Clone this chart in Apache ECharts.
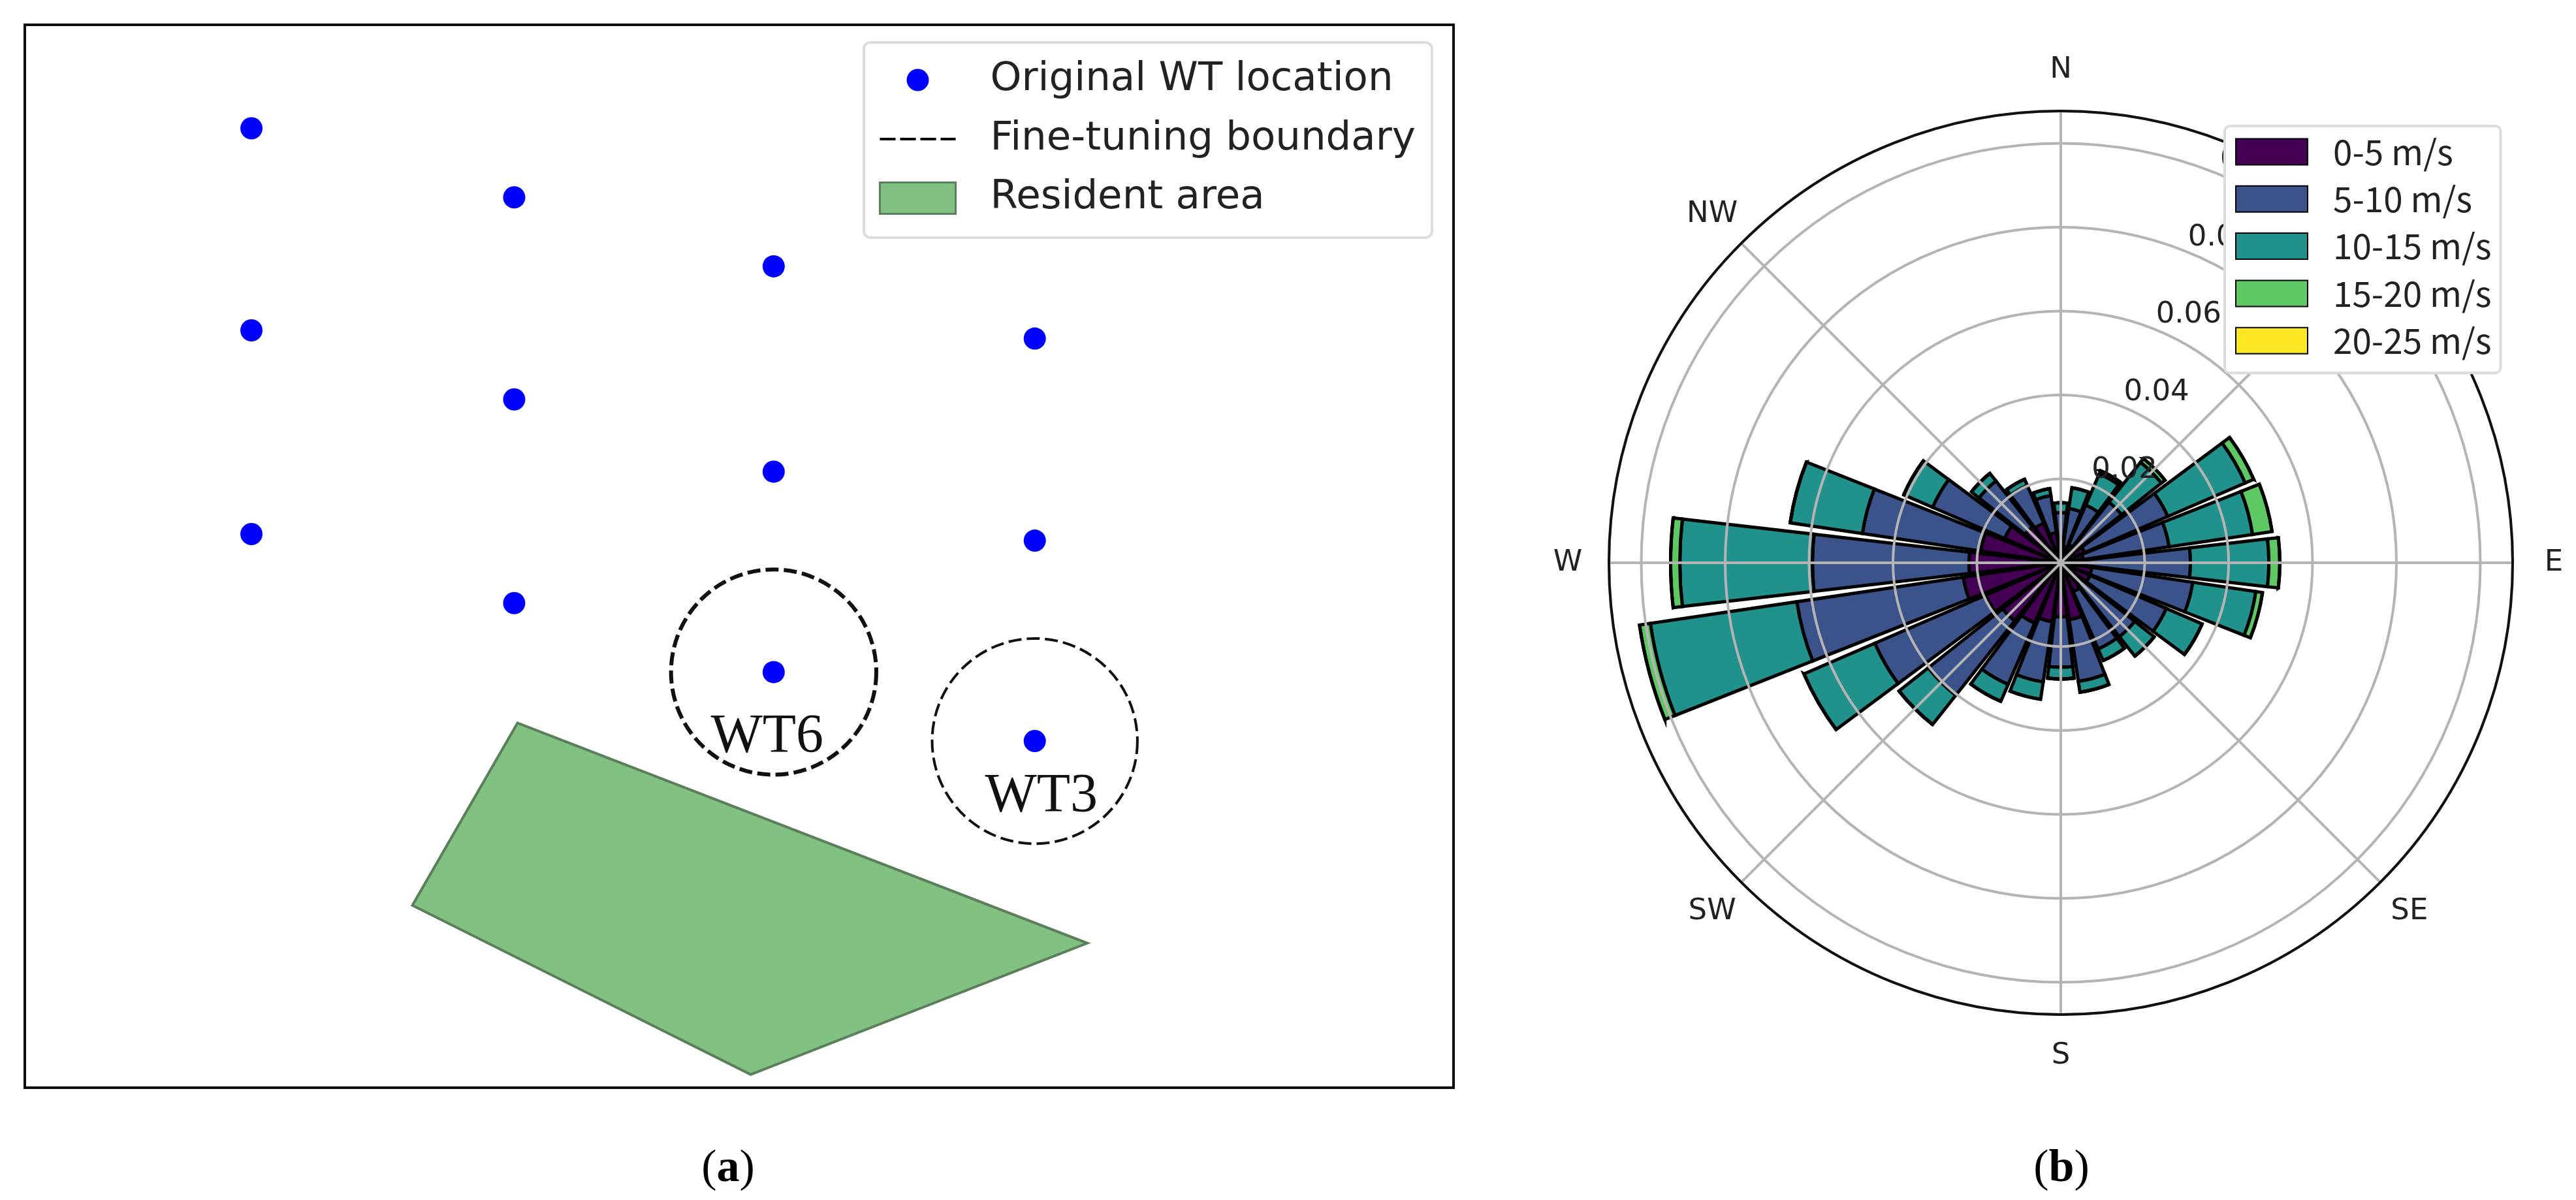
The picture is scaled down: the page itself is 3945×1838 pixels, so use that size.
<!DOCTYPE html>
<html><head><meta charset="utf-8">
<style>html,body{margin:0;padding:0;background:#fff}#c{width:3945px;height:1838px}</style>
<script src="https://cdn.jsdelivr.net/npm/echarts@6/dist/echarts.min.js"></script>
</head><body><div id="c"></div>
<script>
// ---- panel (a): layout in site units (x east, y north)
const wtX = [138,138,138,298,298,298,456,456,456,615,615,615];
const wtY = [584,461,337,542,419,295,500,375,253,456,333,211];
const boundaryX = [456,615];
const boundaryY = [253,211];
const boundaryR = [62.5,62.5];
const boundaryW = [6,4];
const areaX = [300,647,442,236];
const areaY = [222,88,8,111];
const tagNames = ['WT6','WT3'];
const tagX = [452,619];
const tagY = [213,177];
// ---- panel (b): wind rose, frequency per direction sector, clockwise from N
const sectors = ['0','15','30','45','60','75','90','105','120','135','150','165','180','195','210','225','240','255','270','285','300','315','330','345'];
const compass = ['N','NE','E','SE','S','SW','W','NW'];
const speedNames = ['0-5 m/s','5-10 m/s','10-15 m/s','15-20 m/s','20-25 m/s'];
const speed0_5 = [.0047,.0039,.0047,.0054,.0062,.0054,.0062,.0075,.0076,.0065,.0075,.0137,.0129,.0142,.0157,.0177,.0195,.0235,.0219,.0193,.0146,.0109,.0103,.0073];
const speed5_10 = [.0073,.0092,.0103,.0131,.0216,.0207,.0247,.0243,.0198,.0160,.0149,.0149,.0120,.0145,.0159,.0226,.0288,.0401,.0373,.0285,.0187,.0140,.0098,.0089];
const speed10_15 = [.0023,.0050,.0081,.0121,.0201,.0201,.0187,.0152,.0093,.0059,.0030,.0026,.0028,.0042,.0044,.0089,.0184,.0353,.0316,.0174,.0075,.0023,.0016,.0017];
const speed15_20 = [0,0,.0008,.0011,.0022,.0047,.0026,.0016,0,0,0,0,0,0,0,0,0,.0026,.0022,0,0,0,0,0];
const speed20_25 = [0,0,0,0,0,0,0,0,0,0,0,0,0,0,0,0,0,0,0,0,0,0,0,0];
const speedColors = ['#440154','#3b528b','#21918c','#5ec962','#fde725'];
const speedValues = [speed0_5,speed5_10,speed10_15,speed15_20,speed20_25];

const chart = echarts.init(document.getElementById('c'));
const grey = '#b4b4b4';
const rMax = 0.1077;
const sans = 'DejaVu Sans';
const serif = 'Liberation Serif';

const ICON_DOT = 'path://M0,0L0,0ZM116,48L116,48ZM41,24a17,17 0 1,0 34,0a17,17 0 1,0 -34,0Z';
const ICON_DASH = 'path://M0,0L0,0ZM116,48L116,48ZM0,22h24v4h-24ZM31,22h24v4h-24ZM62,22h24v4h-24ZM93,22h23v4h-23Z';
const capStyle = {fontFamily:serif,fontSize:70,fontWeight:'normal',color:'#000',rich:{b:{fontFamily:serif,fontSize:70,fontWeight:'bold',color:'#000'}}};

const option = {
  animation:false,
  backgroundColor:'#fff',
  title:[
    {text:'({b|a})',left:1110,top:1786,textAlign:'center',textVerticalAlign:'middle',textStyle:capStyle},
    {text:'({b|b})',left:3152,top:1786,textAlign:'center',textVerticalAlign:'middle',textStyle:capStyle}
  ],
  grid:{left:38,top:38,width:2188,height:1628,show:true,borderColor:'#111',borderWidth:4,backgroundColor:'#fff'},
  xAxis:{type:'value',min:0,max:870,show:false},
  yAxis:{type:'value',min:0,max:647,show:false},
  polar:[
    {center:[3156,862],radius:[0,692]},
    {center:[3156,862],radius:[0,692]},
    {center:[3156,862],radius:[0,755]}
  ],
  angleAxis:[
    {polarIndex:0,type:'category',data:sectors,boundaryGap:false,startAngle:90,clockwise:true,z:5,
     axisLine:{show:false},axisTick:{show:false,interval:2},axisLabel:{show:false,interval:2},
     splitLine:{show:true,interval:2,lineStyle:{color:grey,width:4}}},
    {polarIndex:1,type:'value',min:0,max:360,startAngle:67.5,clockwise:true,z:7,
     axisLine:{show:true,lineStyle:{color:'#111',width:4}},axisTick:{show:false},axisLabel:{show:false},splitLine:{show:false}},
    {polarIndex:2,type:'category',data:compass,boundaryGap:false,startAngle:90,clockwise:true,show:false}
  ],
  radiusAxis:[
    {polarIndex:0,type:'value',min:0,max:rMax,show:false},
    {polarIndex:1,type:'value',min:0,max:rMax,interval:0.02,z:6,
     axisLine:{show:false},axisTick:{show:false},
     splitLine:{show:true,lineStyle:{color:grey,width:4}},
     axisLabel:{show:true,showMinLabel:false,showMaxLabel:false,margin:2,fontFamily:sans,fontSize:45,color:'#222',align:'left',verticalAlign:'bottom',
       formatter:v=>v.toFixed(2)}},
    {polarIndex:2,type:'value',min:0,max:1,show:false}
  ],
  legend:[
    {left:1323,top:65,orient:'vertical',padding:[27,25,30,23],itemWidth:116,itemHeight:48,itemGap:29.5,icon:'rect',
     backgroundColor:'#fff',borderColor:'#dcdcdc',borderWidth:4,borderRadius:10,z:10,
     textStyle:{fontFamily:sans,fontSize:61,color:'#222',padding:[0,0,0,48]},
     data:[
       {name:'Original WT location',icon:ICON_DOT,itemStyle:{color:'#0000ff',borderWidth:0}},
       {name:'Fine-tuning boundary',icon:ICON_DASH,itemStyle:{color:'#000',borderWidth:0}},
       {name:'Resident area',icon:'rect',itemStyle:{color:'#80c080',borderColor:'#5a7f5a',borderWidth:3}}
     ]},
    {left:3407,top:193,orient:'vertical',padding:[13,14,23,16],itemWidth:110,itemHeight:40,itemGap:19.3,icon:'rect',
     backgroundColor:'#fff',borderColor:'#dcdcdc',borderWidth:4,borderRadius:8,z:10,
     textStyle:{fontFamily:'Noto Sans CJK SC',fontSize:53,color:'#222',padding:[0,0,0,34]},
     data:speedNames}
  ],
  series:[
    {name:'Resident area',type:'custom',coordinateSystem:'cartesian2d',z:2,
     data:[[areaX[0],areaY[0]]],
     renderItem:(p,api)=>({type:'polygon',
       shape:{points:areaX.map((x,i)=>api.coord([x,areaY[i]]))},
       style:{fill:'#80c080',stroke:'#5a7f5a',lineWidth:4}})},
    {name:'Fine-tuning boundary',type:'custom',coordinateSystem:'cartesian2d',z:3,
     encode:{x:0,y:1},
     data:boundaryX.map((x,i)=>[x,boundaryY[i],boundaryR[i],boundaryW[i]]),
     renderItem:(p,api)=>{
       const c=api.coord([api.value(0),api.value(1)]);
       const r=api.size([api.value(2),0])[0];
       return {type:'circle',shape:{cx:c[0],cy:c[1],r:r},
         style:{fill:null,stroke:'#111',lineWidth:api.value(3),lineDash:[20,8]}};
     }},
    {name:'Original WT location',type:'scatter',z:4,symbol:'circle',symbolSize:34,
     data:wtX.map((x,i)=>[x,wtY[i]]),itemStyle:{color:'#0000ff',opacity:1}},
    {name:'tags',type:'scatter',z:5,symbolSize:0,silent:true,itemStyle:{opacity:1},
     data:tagX.map((x,i)=>({value:[x,tagY[i]],name:tagNames[i]})),
     label:{show:true,position:'inside',formatter:'{b}',fontFamily:serif,fontSize:84,color:'#111',opacity:1}},
    {name:'compass',type:'scatter',coordinateSystem:'polar',polarIndex:2,z:3,symbolSize:0,silent:true,itemStyle:{opacity:1},
     data:compass.map((n,i)=>({value:[1,i],name:n})),
     label:{show:true,position:'inside',formatter:'{b}',fontFamily:sans,fontSize:45,color:'#222',opacity:1}},
    ...speedNames.map((n,k)=>({
      name:n,type:'bar',coordinateSystem:'polar',polarIndex:0,stack:'rose',barWidth:'88%',z:2,
      data:speedValues[k],
      itemStyle:{color:speedColors[k],borderColor:'#000',borderWidth:5}
    }))
  ]
};
chart.setOption(option);
</script></body></html>
